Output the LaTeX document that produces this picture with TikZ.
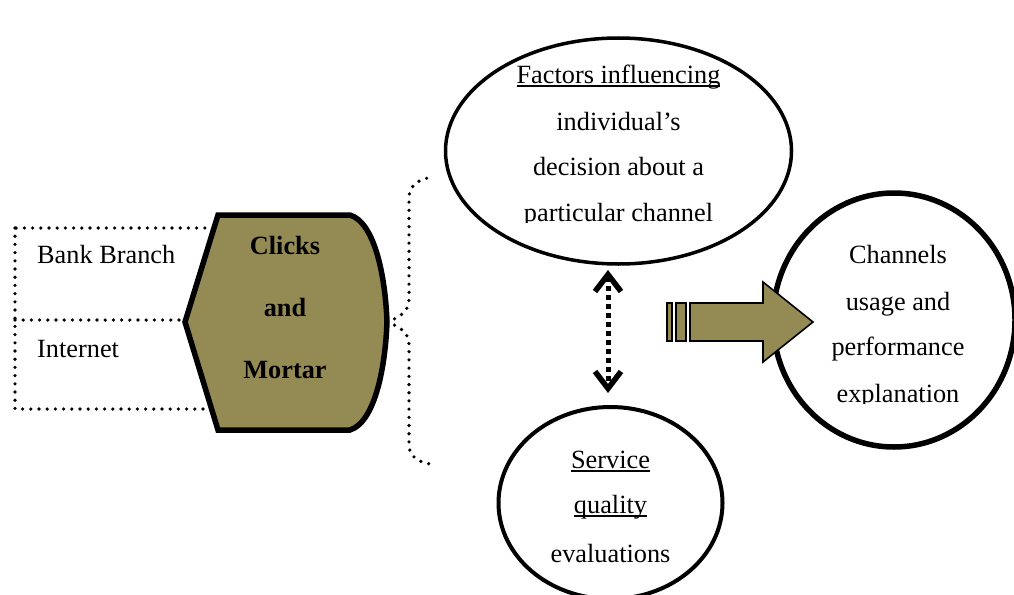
\documentclass[tikz,border=0pt]{standalone}
\usepackage{fontspec}
\setmainfont{Liberation Serif}
\usetikzlibrary{shapes.geometric,arrows.meta}
\definecolor{olive}{RGB}{148,138,84}
\newcommand\ulword[1]{\setbox0=\hbox{#1}\rlap{\rule[-0.15em]{\wd0}{0.075em}}\box0}
\tikzset{
  txt/.style={anchor=base,inner sep=0pt,font=\fontsize{26.3}{46}\selectfont},
  boldtxt/.style={txt,font=\fontsize{26.3}{46}\selectfont\bfseries},
  oval/.style={ellipse,draw,fill=white,inner sep=0pt},
  dots/.style={line width=3.6pt,line cap=round,dash pattern=on 0pt off 8.2pt},
  olivebox/.style={draw,fill=olive,line width=1.6pt,line join=miter},
  barb/.tip={Straight Barb[length=17pt,width=26pt,line width=5.5pt]},
}
\begin{document}
\begin{tikzpicture}[x=1pt,y=-1pt]
\useasboundingbox (0,0) rectangle (1014,594);

% dotted frame for the two channels
\draw[dots] (15,228) rectangle (220,409);
\draw[dots] (15,320) -- (190,320);
\node[txt,anchor=base west] (bank) at (37,263) {Bank Branch};
\node[txt,anchor=base west] (inet) at (37,357) {Internet};

% clicks-and-mortar shape
\coordinate (cmtip) at (387,322);
\draw[fill=olive,line width=5.5pt,line join=miter]
  (218,215) -- (350,215) .. controls (373,222) and (385,270) .. (cmtip)
  .. controls (385,374) and (373,423) .. (350,430) -- (218,430) -- (185,322) -- cycle;
\node[boldtxt] (clicks) at (285,254) {Clicks};
\node[boldtxt] (and) at (285,316) {and};
\node[boldtxt] (mortar) at (285,378) {Mortar};

% dotted brace
\draw[dots] (cmtip) .. controls (398,318) and (409,312) .. (409,300) -- (409,198)
  .. controls (409,186) and (418,179) .. (433,177);
\draw[dots] (cmtip) .. controls (398,326) and (409,332) .. (409,344) -- (409,445)
  .. controls (409,456) and (418,462) .. (430,464);

% factors ellipse
\node[oval,line width=3.5pt,minimum width=346pt,minimum height=226pt] (factors) at (618.5,151) {};
\node[txt] (f1) at (618.5,83) {\ulword{Factors influencing}};
\node[txt] (f2) at (618.5,130) {individual’s};
\node[txt] (f3) at (618.5,175) {decision about a};
\begin{scope}
  \clip (430,190) rectangle (800,222);
  \node[txt] (f4) at (618.5,221) {particular channel};
\end{scope}

% service quality ellipse
\node[oval,line width=4pt,minimum width=224pt,minimum height=192pt] (service) at (610.5,503) {};
\node[txt] (s1) at (610.5,468) {\ulword{Service}};
\node[txt] (s2) at (610.5,513) {\ulword{quality}};
\node[txt] (s3) at (610.5,562) {evaluations};

% channels circle
\node[oval,line width=5.5pt,minimum width=242pt,minimum height=254pt] (channels) at (894,320) {};
\node[txt] (c1) at (898,263) {Channels};
\node[txt] (c2) at (898,310) {usage and};
\node[txt] (c3) at (898,355) {performance};
\begin{scope}
  \clip (780,370) rectangle (1014,403);
  \node[txt] (c4) at (898,402) {explanation};
\end{scope}

% two-way dotted link
\coordinate (linktop) at (608,270);
\coordinate (linkbot) at (608,393);
\draw[line width=5pt,dash pattern=on 5pt off 4pt,barb-barb] (linktop) -- (linkbot);

% striped block arrow
\draw[olivebox] (667,303) rectangle (672,341);
\draw[olivebox] (676,303) rectangle (686,341);
\draw[olivebox] (690,303) -- (763,303) -- (763,282) -- (813,322) -- (763,362) -- (763,341) -- (690,341) -- cycle;
\end{tikzpicture}
\end{document}
